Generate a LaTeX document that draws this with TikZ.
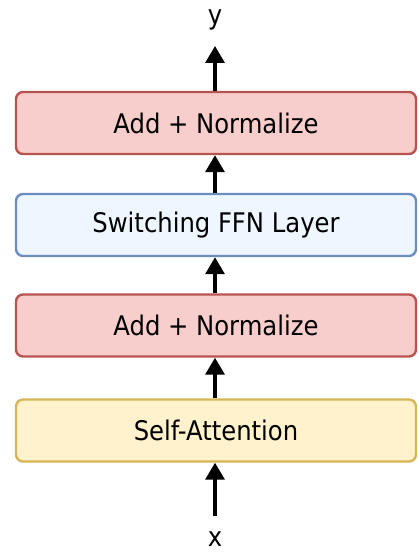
\documentclass[tikz,border=0pt]{standalone}
\usepackage{fontspec}
\setmainfont{DejaVu Sans Condensed}
\usetikzlibrary{arrows.meta}
\definecolor{redfill}{HTML}{F8CECC}
\definecolor{redline}{HTML}{B85450}
\definecolor{bluefill}{HTML}{EEF7FF}
\definecolor{blueline}{HTML}{6C8EBF}
\definecolor{yelfill}{HTML}{FFF2CC}
\definecolor{yelline}{HTML}{D6B656}
\tikzset{
  layerbox/.style={draw, line width=2.4pt, rounded corners=7pt, minimum width=400pt, minimum height=62pt, inner sep=0pt, font=\fontsize{27}{31}\selectfont},
  redbox/.style={layerbox, fill=redfill, draw=redline},
  bluebox/.style={layerbox, fill=bluefill, draw=blueline},
  yelbox/.style={layerbox, fill=yelfill, draw=yelline},
  flow/.style={line width=3.4pt, -{Triangle[width=19pt,length=17pt]}},
  lbl/.style={font=\fontsize{27}{30}\selectfont, inner sep=0pt}
}
\begin{document}
\begin{tikzpicture}[x=1pt,y=-1pt]
\useasboundingbox (0,0) rectangle (419,553);
\node[redbox] (an1) at (216,123) {Add + Normalize};
\node[bluebox] (ffn) at (216,225) {Switching FFN Layer};
\node[redbox] (an2) at (216,325.5) {Add + Normalize};
\node[yelbox] (sa) at (216,430.5) {Self-Attention};
\node[lbl] (y) at (215,20) {y};
\node[lbl] (x) at (215,539) {x};
\coordinate (yout) at (215,46);
\coordinate (xin) at (215,516);
\draw[flow] (xin) -- (sa.south -| xin);
\draw[flow] (sa.north -| xin) -- (an2.south -| xin);
\draw[flow] (an2.north -| xin) -- (ffn.south -| xin);
\draw[flow] (ffn.north -| xin) -- (an1.south -| xin);
\draw[flow] (an1.north -| xin) -- (yout);
\end{tikzpicture}
\end{document}
